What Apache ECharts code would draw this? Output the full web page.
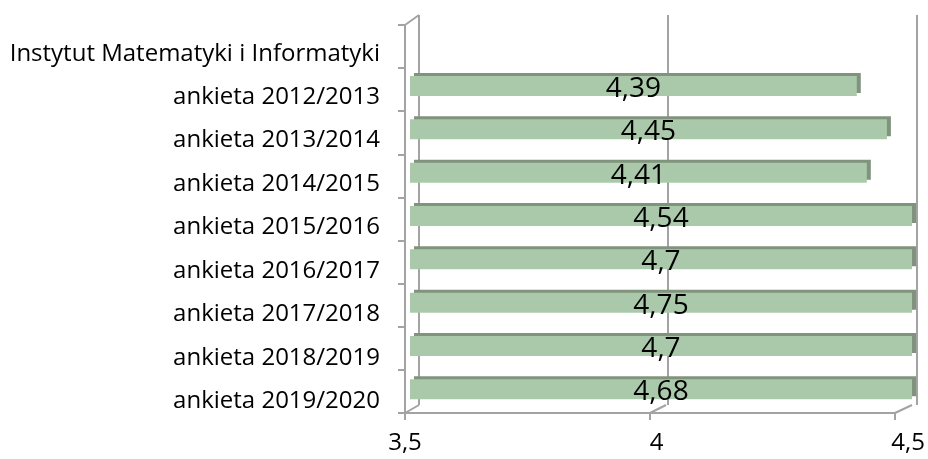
<!DOCTYPE html>
<html>
<head>
<meta charset="utf-8">
<script src="https://cdn.jsdelivr.net/npm/echarts@6/dist/echarts.min.js"></script>
<style>
  html, body { margin: 0; padding: 0; background: #fff; }
  #main { width: 928px; height: 459px; }
</style>
</head>
<body>
<div id="main"></div>
<script>
// categories top to bottom, first one is the group title (no bar)
const categories = [
  'Instytut Matematyki i Informatyki',
  'ankieta 2012/2013',
  'ankieta 2013/2014',
  'ankieta 2014/2015',
  'ankieta 2015/2016',
  'ankieta 2016/2017',
  'ankieta 2017/2018',
  'ankieta 2018/2019',
  'ankieta 2019/2020'
]
const scores = ['-', 4.39, 4.45, 4.41, 4.54, 4.7, 4.75, 4.7, 4.68]
const axis_min = 3.5
const axis_max = 4.5
const axis_step = 0.5

const line_color = '#a3a3a3'
const bar_color = '#aac9aa'
const bar_dark = '#7f937d'
const font = 'Open Sans'

function comma(v) {
  return String(v).replace('.', ',')
}

var chartDom = document.getElementById('main');
var myChart = echarts.init(chartDom);
var option;

option = {
  animation: false,
  grid: [
    // back wall
    { left: 419, right: 11, top: 15, bottom: 54 },
    // bars
    { left: 410, right: 16, top: 21, bottom: 48 },
    // front axis lines
    { left: 405, right: 33, top: 25, bottom: 46 },
    // labels
    { left: 405, right: 18, top: 32, bottom: 36 }
  ],
  xAxis: [
    {
      gridIndex: 0, type: 'value', min: axis_min, max: axis_max, interval: axis_step,
      axisLine: { show: false }, axisTick: { show: false }, axisLabel: { show: false },
      splitLine: { show: true, lineStyle: { color: line_color, width: 2 } }
    },
    {
      gridIndex: 1, type: 'value', min: axis_min, max: axis_max, interval: axis_step,
      show: false
    },
    {
      gridIndex: 2, type: 'value', min: axis_min, max: axis_max, interval: axis_step,
      axisLine: { show: true, lineStyle: { color: line_color, width: 2 } },
      axisTick: { show: true, length: 7, lineStyle: { color: line_color, width: 2 } },
      axisLabel: { show: false },
      splitLine: { show: false }
    },
    {
      gridIndex: 3, type: 'value', min: axis_min, max: axis_max, interval: axis_step,
      axisLine: { show: false }, axisTick: { show: false },
      splitLine: { show: false },
      axisLabel: {
        margin: 8, color: '#000', fontSize: 24, fontFamily: font,
        formatter: function (v) { return comma(v) }
      }
    }
  ],
  yAxis: [
    {
      gridIndex: 0, type: 'category', data: categories, inverse: true,
      axisLine: { show: false }, axisTick: { show: false }, axisLabel: { show: false }
    },
    {
      gridIndex: 1, type: 'category', data: categories, inverse: true, show: false
    },
    {
      gridIndex: 2, type: 'category', data: categories, inverse: true,
      axisLine: { show: true, lineStyle: { color: line_color, width: 2 } },
      axisTick: { show: true, length: 7, lineStyle: { color: line_color, width: 2 } },
      axisLabel: { show: false }
    },
    {
      gridIndex: 3, type: 'category', data: categories, inverse: true,
      axisLine: { show: false }, axisTick: { show: false },
      axisLabel: { margin: 25, color: '#000', fontSize: 24, fontFamily: font }
    }
  ],
  series: [
    {
      type: 'bar',
      xAxisIndex: 1,
      yAxisIndex: 1,
      data: scores,
      barWidth: 20,
      clip: true,
      itemStyle: {
        color: bar_color,
        shadowColor: bar_dark,
        shadowBlur: 0,
        shadowOffsetX: 4,
        shadowOffsetY: -3
      },
      label: {
        show: true,
        position: 'inside',
        offset: [0, 3],
        color: '#000',
        fontSize: 28,
        fontFamily: font,
        formatter: function (p) { return comma(p.value) }
      }
    }
  ],
  // depth edges of the 3d box
  graphic: [
    { type: 'line', shape: { x1: 405, y1: 25, x2: 419, y2: 15 }, style: { stroke: line_color, lineWidth: 2 } },
    { type: 'line', shape: { x1: 405, y1: 413, x2: 419, y2: 405 }, style: { stroke: line_color, lineWidth: 2 } },
    { type: 'line', shape: { x1: 650, y1: 413, x2: 666, y2: 405 }, style: { stroke: line_color, lineWidth: 2 } },
    { type: 'line', shape: { x1: 895, y1: 413, x2: 912, y2: 405 }, style: { stroke: line_color, lineWidth: 2 } }
  ]
};
option && myChart.setOption(option);
</script>
</body>
</html>
